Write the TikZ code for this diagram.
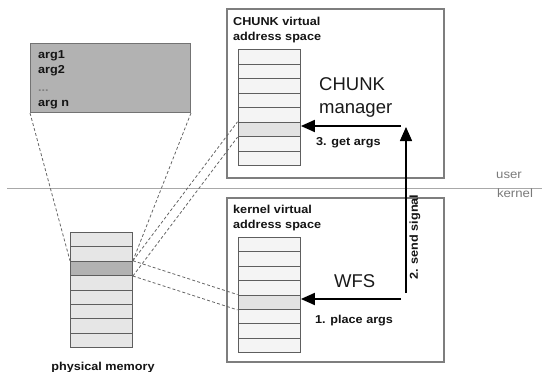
\documentclass[tikz,border=0pt]{standalone}
\usepackage{fontspec}
\setmainfont{Liberation Sans}
\newfontfamily\lblfont[FakeStretch=1.1]{Liberation Sans}
\usetikzlibrary{arrows.meta}

\definecolor{boxline}{HTML}{7E7E7E}
\definecolor{cellline}{HTML}{5E5E5E}
\definecolor{cellfill}{HTML}{F4F4F4}
\definecolor{physfill}{HTML}{E6E6E6}
\definecolor{hlfill}{HTML}{E2E2E2}
\definecolor{darkfill}{HTML}{B2B2B2}
\definecolor{sepline}{HTML}{A8A8A8}
\definecolor{domaintext}{HTML}{7A7A7A}

\tikzset{
  lbl/.style={inner sep=0pt, font=\lblfont\fontsize{11.5}{13}\selectfont\bfseries, text=black!92},
  bigtext/.style={inner sep=0pt, font=\fontsize{18.5}{20}\selectfont, text=black!90},
  ringlbl/.style={inner sep=0pt, font=\lblfont\fontsize{12}{14}\selectfont, text=domaintext},
  space/.style={draw=boxline, line width=1.1pt},
  cell/.style={draw=cellline, line width=0.9pt, fill=cellfill, minimum width=62.5pt,
    inner sep=0pt, anchor=north west},
  mapline/.style={draw=black!60, line width=0.8pt, dash pattern=on 3pt off 2.2pt},
  bigarrow/.style={draw=black, line width=1.8pt,
    -{Triangle[length=14pt,width=12pt]}},
}

\begin{document}
\begin{tikzpicture}[x=1pt,y=-1pt]
\useasboundingbox (0,0) rectangle (542,372);

% user / kernel boundary
\draw[sepline, line width=1.4pt] (7,188.5) -- (542,188.5);
\node[ringlbl, anchor=base] (userlbl) at (509,178) {user};
\node[ringlbl, anchor=base] (kernlbl) at (515,197) {kernel};

% argument block
\node[draw=black!55, line width=1pt, fill=darkfill, minimum width=160pt, minimum height=69pt,
  inner sep=0pt, anchor=north west] (args) at (30,43) {};
\node[lbl, anchor=base west] (a1) at (38,58) {arg1};
\node[lbl, anchor=base west] (a2) at (38,74) {arg2};
\node[lbl, anchor=base west, text=black!50] (a3) at (38,91) {...};
\node[lbl, anchor=base west] (a4) at (38,106) {arg n};

% physical memory
\foreach \i in {1,...,8}
  \node[cell, fill=physfill, minimum width=62pt, minimum height=14.375pt] (p\i) at (70,{232+(\i-1)*14.375}) {};
\node[cell, fill=darkfill, minimum width=62pt, minimum height=14.375pt] (p3) at (70,{232+2*14.375}) {};
\node[lbl, anchor=base] (physlbl) at (103,370) {physical memory};

% CHUNK address space
\draw[space] (227,9) rectangle (444,178);
\node[lbl, anchor=base west] (cu1) at (233,25) {CHUNK virtual};
\node[lbl, anchor=base west] (cu2) at (233,40) {address space};
\foreach \i in {1,...,8}
  \node[cell, minimum height=14.5pt] (c\i) at (237.5,{49.3+(\i-1)*14.5}) {};
\node[cell, fill=hlfill, minimum height=14.5pt] (c6) at (237.5,{49.3+5*14.5}) {};
\node[bigtext, anchor=base west] (cm1) at (319,90) {CHUNK};
\node[bigtext, anchor=base west] (cm2) at (319,113) {manager};

% kernel address space
\draw[space] (227,198) rectangle (444,362);
\node[lbl, anchor=base west] (ke1) at (233,213) {kernel virtual};
\node[lbl, anchor=base west] (ke2) at (233,228) {address space};
\foreach \i in {1,...,8}
  \node[cell, minimum height=14.4pt] (k\i) at (237.5,{237+(\i-1)*14.4}) {};
\node[cell, fill=hlfill, minimum height=14.4pt] (k5) at (237.5,{237+4*14.4}) {};
\node[bigtext, anchor=base west] (wfs) at (334,287) {WFS};

% mappings
\draw[mapline] (args.south west) -- (p3.north west);
\draw[mapline] (args.south east) -- (p3.north east);
\draw[mapline] (p3.north east) -- (c6.north west);
\draw[mapline] (p3.south east) -- (c6.south west);
\draw[mapline] (p3.north east) -- (k5.north west);
\draw[mapline] (p3.south east) -- (k5.south west);

% steps
\coordinate (place) at (401,299);
\draw[bigarrow] (place) -- (place -| k5.east);
\node[lbl, anchor=base west] (s1) at (315,323) {1. place args};

\coordinate (sigfrom) at (406,293);
\coordinate (sigto) at (406,127);
\draw[bigarrow, line width=1.5pt] (sigfrom) -- (sigto);
\node[lbl, rotate=90] (s2) at (415,237) {2. send signal};

\coordinate (get) at (401,126);
\draw[bigarrow] (get) -- (get -| c6.east);
\node[lbl, anchor=base west] (s3) at (316,145) {3. get args};
\end{tikzpicture}
\end{document}
